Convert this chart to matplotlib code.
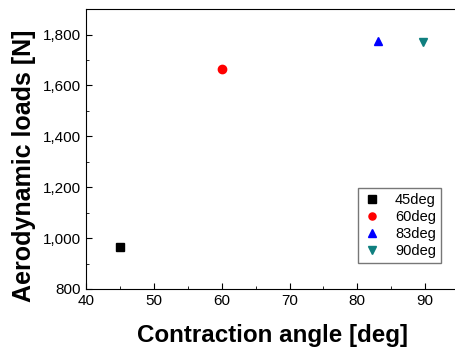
import matplotlib
matplotlib.use("Agg")
import matplotlib.pyplot as plt
from matplotlib.ticker import MultipleLocator, FuncFormatter

# data
labels = ["45deg", "60deg", "83deg", "90deg"]
angles = [45.0, 60.1, 83.0, 89.7]
loads = [963, 1663, 1773, 1772]
markers = ["s", "o", "^", "v"]
colors = ["black", "red", "blue", "#0f7f7f"]

plt.rcParams["font.family"] = ["Liberation Sans", "DejaVu Sans"]

fig = plt.figure(figsize=(4.55, 3.49), dpi=100)
ax = fig.add_axes([0.189, 0.172, 0.82, 0.802])

for a, l, m, c, lab in zip(angles, loads, markers, colors, labels):
    ax.plot(a, l, linestyle="none", marker=m, color=c, markersize=6, label=lab)

ax.set_xlim(40, 95)
ax.set_ylim(800, 1900)
ax.xaxis.set_major_locator(MultipleLocator(10))
ax.xaxis.set_minor_locator(MultipleLocator(5))
ax.yaxis.set_major_locator(MultipleLocator(200))
ax.yaxis.set_minor_locator(MultipleLocator(100))
ax.yaxis.set_major_formatter(FuncFormatter(lambda v, p: f"{int(v):,}"))
ax.tick_params(which="both", direction="in", labelsize=11, top=False, right=False)
ax.tick_params(which="major", length=4)
ax.tick_params(which="minor", length=2.5)

ax.set_xlabel("Contraction angle [deg]", fontsize=17.4, fontweight="bold", labelpad=12)
ax.set_ylabel("Aerodynamic loads [N]", fontsize=18, fontweight="bold")
ax.yaxis.set_label_coords(-0.135, 0.44)

ax.legend(loc="lower right", bbox_to_anchor=(441 / 455, (349 - 263) / 349),
          bbox_transform=fig.transFigure, borderaxespad=0, fontsize=10.5,
          frameon=True, fancybox=False, edgecolor="#555555", handletextpad=0.9,
          borderpad=0.35, labelspacing=0.2, handlelength=1.3, markerscale=0.85)

fig.savefig("out.png", dpi=100)
